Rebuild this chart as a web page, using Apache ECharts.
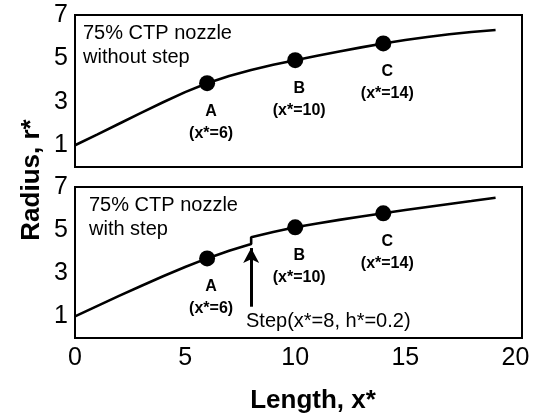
<!DOCTYPE html>
<html><head><meta charset="utf-8">
<script src="https://cdn.jsdelivr.net/npm/echarts@6/dist/echarts.min.js"></script>
<style>html,body{margin:0;padding:0;background:#fff}#c{width:538px;height:413px}</style>
</head><body><div id="c"></div>
<script>
// Top panel: nozzle without step
const topX = [0, 1, 2, 3, 4, 5, 6, 7, 8, 9, 10, 11, 12, 13, 14, 15, 16, 17, 18, 19.1];
const topR = [1.00, 1.49, 1.99, 2.49, 2.98, 3.45, 3.86, 4.19, 4.47, 4.71, 4.92, 5.125, 5.32, 5.51, 5.69, 5.85, 5.99, 6.11, 6.215, 6.31];
// Bottom panel: nozzle with step at x*=8
const botX = [0, 1, 2, 3, 4, 5, 6, 7, 8, 8, 9, 10, 11, 12, 13, 14, 15, 16, 17, 18, 19.1];
const botR = [1.00, 1.48, 1.95, 2.41, 2.86, 3.29, 3.69, 4.04, 4.36, 4.67, 4.91, 5.13, 5.31, 5.475, 5.63, 5.78, 5.93, 6.075, 6.215, 6.35, 6.50];
// Marked points
const pointNames = ['A', 'B', 'C'];
const pointX = [6, 10, 14];
const topPointR = [3.86, 4.92, 5.69];
const botPointR = [3.69, 5.13, 5.78];
// Step arrow (x*, r* from tail to tip)
const arrowX = 8;
const arrowR = [1.45, 4.17];
// Axis ticks
const xTicks = [0, 5, 10, 15, 20];
const yTicks = [1, 3, 5, 7];
const panelTexts = ['75% CTP nozzle\nwithout step', '75% CTP nozzle\nwith step'];
const stepText = 'Step(x*=8, h*=0.2)';

const FONT = 'Liberation Sans, Arial, sans-serif';
const pair = (xs, ys) => xs.map((x, i) => [x, ys[i]]);
const ptData = (ys) => pointX.map((x, i) => ({value: [x, ys[i]], name: pointNames[i]}));

function yAxis(idx) {
  return {
    gridIndex: idx, type: 'value', min: 0, max: 7, interval: 1,
    axisLine: {show: false}, axisTick: {show: false}, splitLine: {show: false},
    axisLabel: {
      margin: 7, color: '#000', fontSize: 25, fontFamily: FONT,
      formatter: v => yTicks.indexOf(v) >= 0 ? String(v) : ''
    }
  };
}
function xAxis(idx, showLabels) {
  return {
    gridIndex: idx, type: 'value', min: 0, max: 20.3, interval: 5,
    axisLine: {show: false}, axisTick: {show: false}, splitLine: {show: false},
    axisLabel: {
      show: showLabels, margin: 8, color: '#000', fontSize: 25, fontFamily: FONT,
      showMaxLabel: false,
      formatter: v => xTicks.indexOf(v) >= 0 ? String(v) : ''
    }
  };
}
const pointLabel = {
  show: true, position: 'bottom', distance: 9, offset: [4, 0],
  color: '#000', fontSize: 16, fontWeight: 'bold', fontFamily: FONT, lineHeight: 22,
  formatter: p => p.name + '\n(x*=' + p.value[0] + ')'
};

const chart = echarts.init(document.getElementById('c'), null, {renderer: 'canvas'});
chart.setOption({
  animation: false,
  backgroundColor: '#fff',
  grid: [
    {left: 75, top: 15, width: 447, height: 152, show: true, borderColor: '#000', borderWidth: 2, backgroundColor: 'transparent'},
    {left: 75, top: 187, width: 447, height: 151, show: true, borderColor: '#000', borderWidth: 2, backgroundColor: 'transparent'}
  ],
  xAxis: [xAxis(0, false), xAxis(1, true)],
  yAxis: [yAxis(0), yAxis(1)],
  series: [
    {type: 'line', xAxisIndex: 0, yAxisIndex: 0, data: pair(topX, topR), showSymbol: false,
     lineStyle: {color: '#000', width: 2.6}},
    {type: 'line', xAxisIndex: 1, yAxisIndex: 1, data: pair(botX, botR), showSymbol: false,
     lineStyle: {color: '#000', width: 2.6},
     markLine: {
       silent: true, symbol: ['none', 'arrow'], symbolSize: [12, 15],
       lineStyle: {color: '#000', width: 3, type: 'solid'}, label: {show: false},
       data: [[{coord: [arrowX, arrowR[0]]}, {coord: [arrowX, arrowR[1]]}]]
     }},
    {type: 'scatter', xAxisIndex: 0, yAxisIndex: 0, data: ptData(topPointR), symbolSize: 16,
     itemStyle: {color: '#000', opacity: 1}, label: pointLabel},
    {type: 'scatter', xAxisIndex: 1, yAxisIndex: 1, data: ptData(botPointR), symbolSize: 16,
     itemStyle: {color: '#000', opacity: 1}, label: pointLabel}
  ],
  graphic: [
    {type: 'text', left: 83, top: 22, style: {text: panelTexts[0], font: '20px ' + FONT, lineHeight: 23.5, fill: '#000'}},
    {type: 'text', left: 89, top: 194, style: {text: panelTexts[1], font: '20px ' + FONT, lineHeight: 23.5, fill: '#000'}},
    {type: 'text', left: 246, top: 311, style: {text: stepText, font: '20px ' + FONT, fill: '#000'}},
    {type: 'text', x: 313, y: 401, style: {text: 'Length, x*', font: 'bold 26px ' + FONT, fill: '#000', align: 'center', verticalAlign: 'middle'}},
    {type: 'text', x: 32, y: 180, rotation: Math.PI / 2, style: {text: 'Radius, r*', font: 'bold 26px ' + FONT, fill: '#000', align: 'center', verticalAlign: 'middle'}}
  ]
});
</script>
</body></html>
